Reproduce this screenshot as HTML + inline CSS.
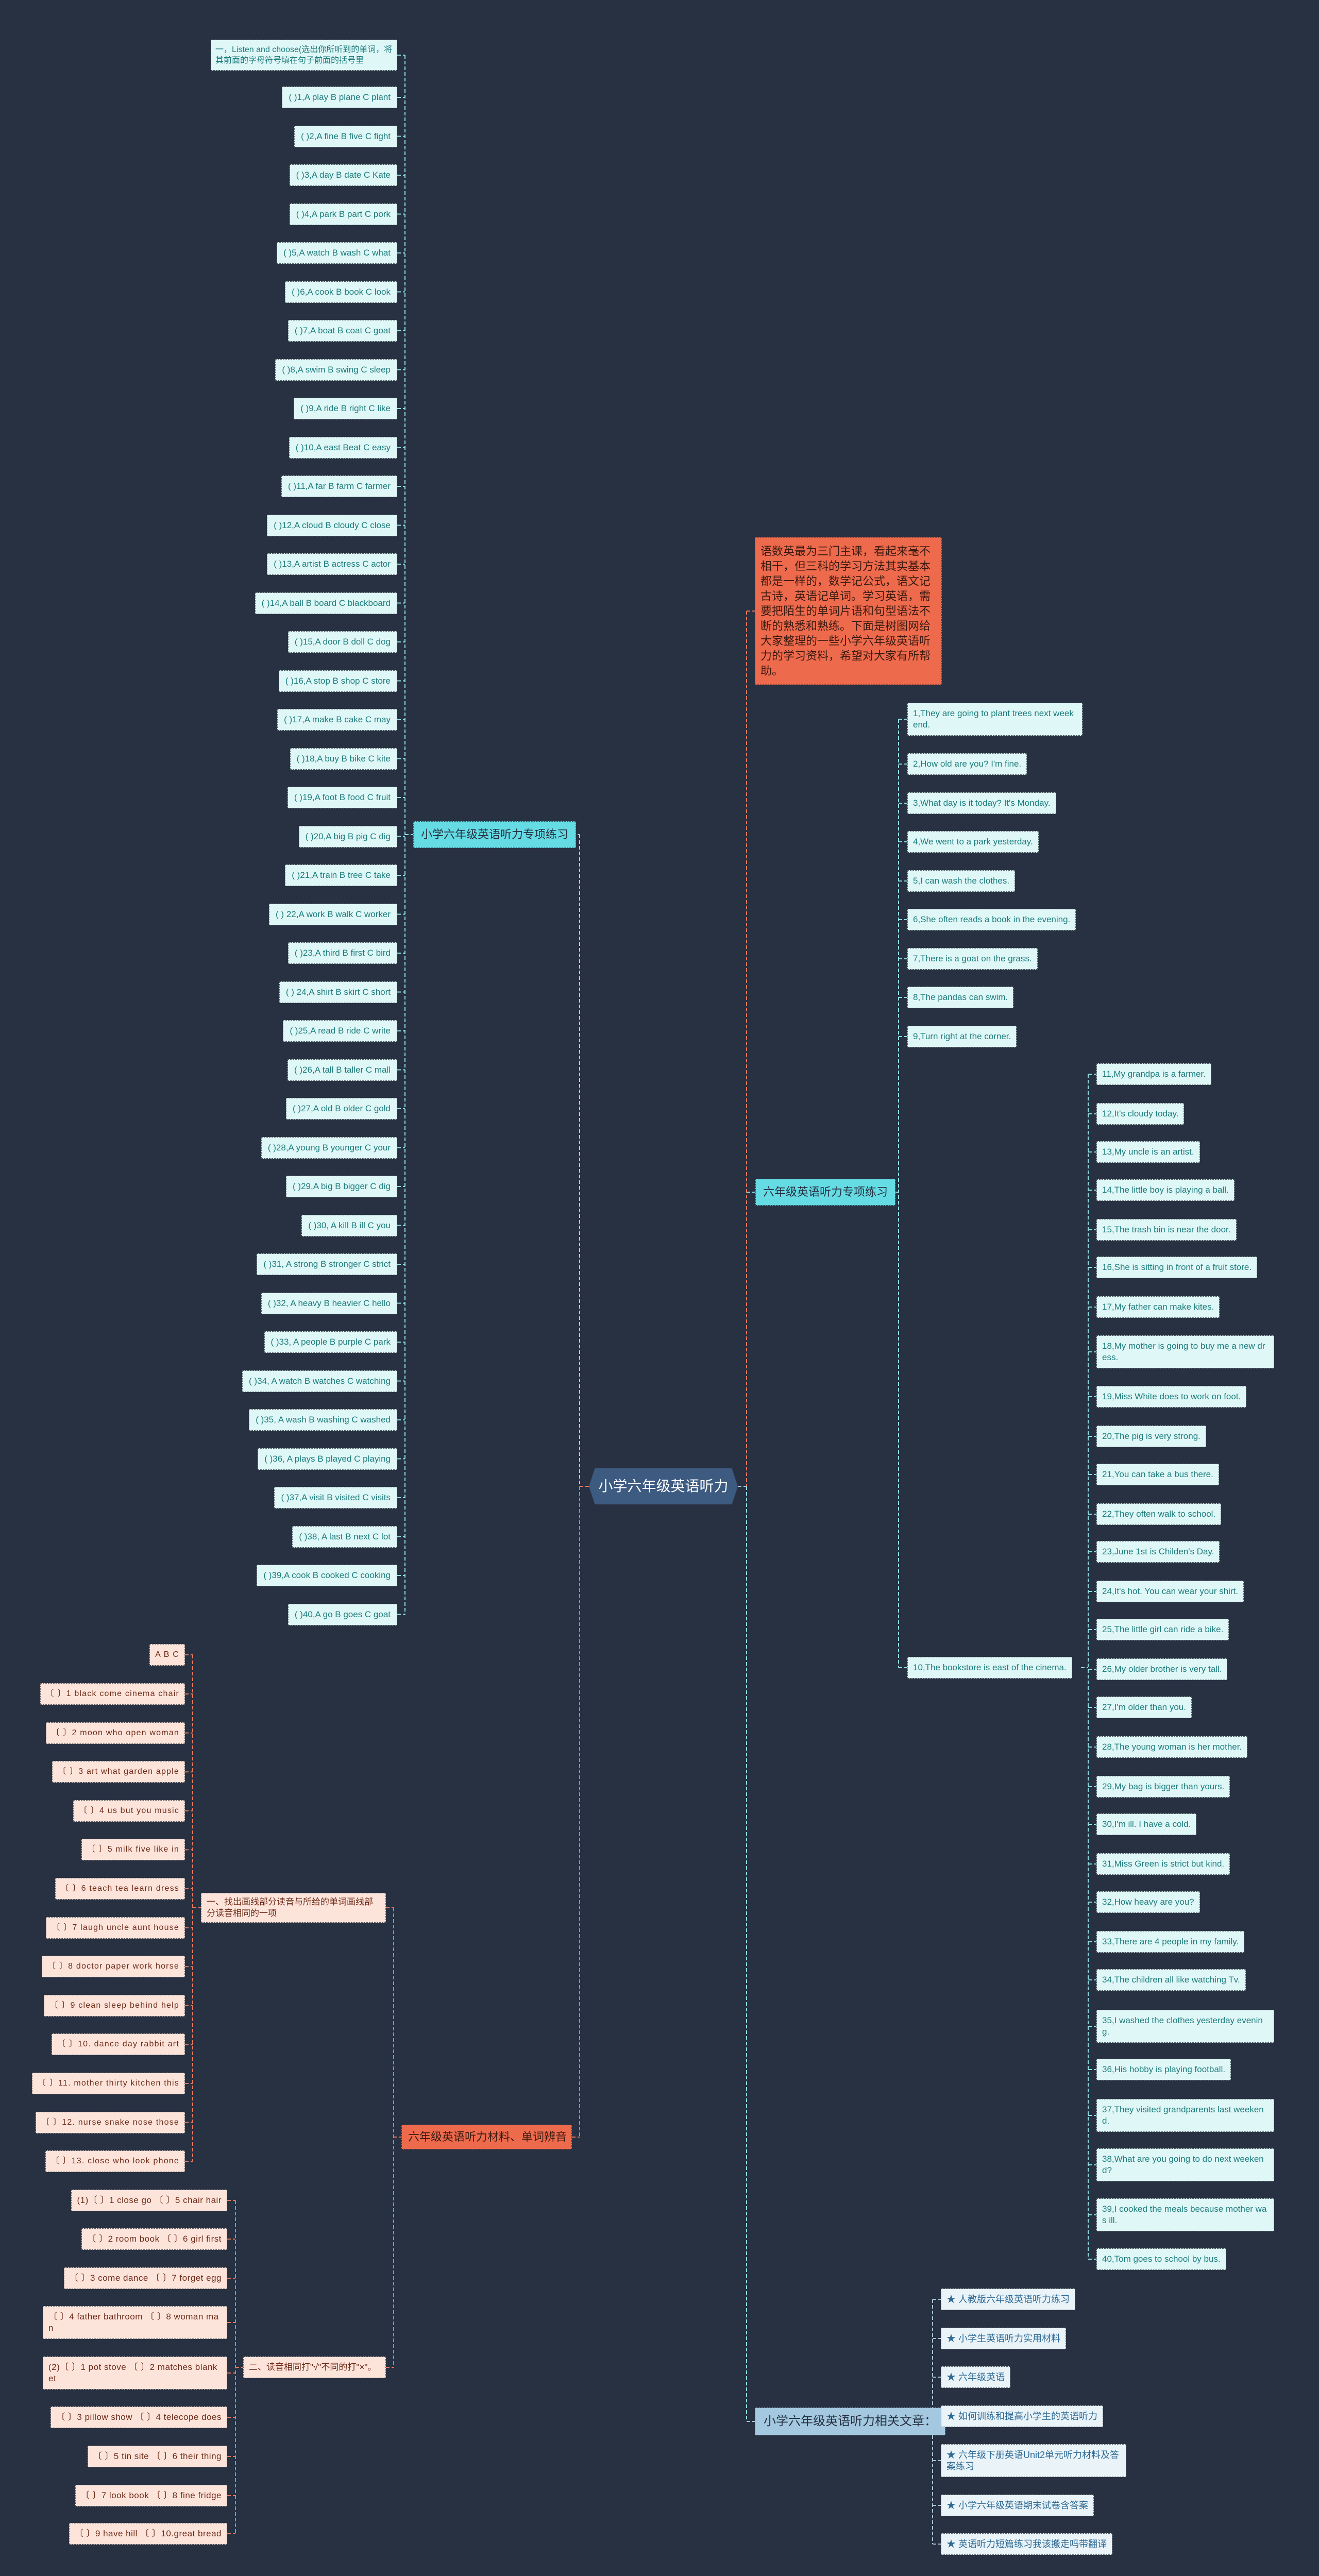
<!DOCTYPE html>
<html><head><meta charset="utf-8">
<style>
html,body{margin:0;padding:0;}
body{width:2560px;height:5031px;background:#283142;position:relative;overflow:hidden;font-family:"Liberation Sans","Noto Sans CJK SC",sans-serif;}
.b{position:absolute;box-sizing:border-box;padding:9px 10px;line-height:22px;font-size:16px;border:1px dashed rgba(20,30,40,.7);transform:translateY(-50%);}
.cy{background:#e0f7f7;color:#1d7c7c;}
.cyl{font-size:17px;padding:9px 12px;}
.cyr{font-size:17px;}
.cyn{background:#65dbe4;color:#263040;font-size:22px;line-height:30px;padding:10px 14px;}
.or{background:#fde4db;color:#6e2b18;font-size:16px;letter-spacing:1.2px;}
.orn{background:#ee6a4c;color:#3a1a10;font-size:22px;line-height:30px;padding:8px 12px;}
.bl{background:#e9f3f8;color:#2e6a95;font-size:18px;}
.bln{background:#a3c8df;color:#263040;font-size:24px;line-height:32px;padding:10px 16px;}
.wrap{white-space:normal;word-break:break-all;}
.nw{white-space:nowrap;}
#center{position:absolute;left:1143px;top:2850px;width:289px;height:70px;background:#3d5a80;color:#fff;font-size:28px;line-height:70px;text-align:center;clip-path:polygon(4% 0,96% 0,100% 50%,96% 100%,4% 100%,0 50%);}
svg{position:absolute;left:0;top:0;}
</style></head>
<body>
<svg id="lines" width="2560" height="5031"></svg>
<div id="center">小学六年级英语听力</div>
<script>
const leftItems=["( )1,A play B plane C plant","( )2,A fine B five C fight","( )3,A day B date C Kate","( )4,A park B part C pork","( )5,A watch B wash C what","( )6,A cook B book C look","( )7,A boat B coat C goat","( )8,A swim B swing C sleep","( )9,A ride B right C like","( )10,A east Beat C easy","( )11,A far B farm C farmer","( )12,A cloud B cloudy C close","( )13,A artist B actress C actor","( )14,A ball B board C blackboard","( )15,A door B doll C dog","( )16,A stop B shop C store","( )17,A make B cake C may","( )18,A buy B bike C kite","( )19,A foot B food C fruit","( )20,A big B pig C dig","( )21,A train B tree C take","( ) 22,A work B walk C worker","( )23,A third B first C bird","( ) 24,A shirt B skirt C short","( )25,A read B ride C write","( )26,A tall B taller C mall","( )27,A old B older C gold","( )28,A young B younger C your","( )29,A big B bigger C dig","( )30, A kill B ill C you","( )31, A strong B stronger C strict","( )32, A heavy B heavier C hello","( )33, A people B purple C park","( )34, A watch B watches C watching","( )35, A wash B washing C washed","( )36, A plays B played C playing","( )37,A visit B visited C visits","( )38, A last B next C lot","( )39,A cook B cooked C cooking","( )40,A go B goes C goat"];
const rightA=["1,They are going to plant trees next weekend.","2,How old are you? I'm fine.","3,What day is it today? It's Monday.","4,We went to a park yesterday.","5,I can wash the clothes.","6,She often reads a book in the evening.","7,There is a goat on the grass.","8,The pandas can swim.","9,Turn right at the corner.","10,The bookstore is east of the cinema."];
const rightAY=[1396,1483,1559,1634,1710,1785,1861,1936,2012,3237];
const rightB=["11,My grandpa is a farmer.","12,It's cloudy today.","13,My uncle is an artist.","14,The little boy is playing a ball.","15,The trash bin is near the door.","16,She is sitting in front of a fruit store.","17,My father can make kites.","18,My mother is going to buy me a new dress.","19,Miss White does to work on foot.","20,The pig is very strong.","21,You can take a bus there.","22,They often walk to school.","23,June 1st is Childen's Day.","24,It's hot. You can wear your shirt.","25,The little girl can ride a bike.","26,My older brother is very tall.","27,I'm older than you.","28,The young woman is her mother.","29,My bag is bigger than yours.","30,I'm ill. I have a cold.","31,Miss Green is strict but kind.","32,How heavy are you?","33,There are 4 people in my family.","34,The children all like watching Tv.","35,I washed the clothes yesterday evening.","36,His hobby is playing football.","37,They visited grandparents last weekend.","38,What are you going to do next weekend?","39,I cooked the meals because mother was ill.","40,Tom goes to school by bus."];
const rightBY=[2085,2162,2236,2310,2387,2460,2537,2624,2711,2788,2862,2939,3012,3089,3163,3240,3314,3391,3468,3541,3618,3692,3769,3843,3933,4017,4106,4202,4299,4385];
const related=["★ 人教版六年级英语听力练习","★ 小学生英语听力实用材料","★ 六年级英语","★ 如何训练和提高小学生的英语听力","★ 六年级下册英语Unit2单元听力材料及答案练习","★ 小学六年级英语期末试卷含答案","★ 英语听力短篇练习我该搬走吗带翻译"];
const relatedY=[4463,4539,4614,4690,4776,4863,4938];
const sub1=["A B C","〔 〕1  black come cinema chair","〔 〕2  moon who open woman","〔 〕3  art what garden apple","〔 〕4  us but you music","〔 〕5  milk five like in","〔 〕6  teach tea learn dress","〔 〕7  laugh uncle aunt house","〔 〕8  doctor paper work horse","〔 〕9  clean sleep behind help","〔 〕10. dance day rabbit art","〔 〕11. mother thirty kitchen this","〔 〕12. nurse snake nose those","〔 〕13. close who look phone"];
const sub2=["(1)〔 〕1 close go 〔 〕5 chair hair","〔 〕2 room book 〔 〕6 girl first","〔 〕3 come dance 〔 〕7 forget egg","〔 〕4 father bathroom 〔 〕8 woman man","(2)〔 〕1 pot stove 〔 〕2 matches blanket","〔 〕3  pillow show 〔 〕4 telecope does","〔 〕5  tin site 〔 〕6 their thing","〔 〕7 look book 〔 〕8 fine fridge","〔 〕9 have hill 〔 〕10.great bread"];
const sub2Y=[4271,4346,4422,4508,4606,4692,4768,4844,4918];

const svg=document.getElementById('lines');
function line(x1,y1,x2,y2,c){const l=document.createElementNS('http://www.w3.org/2000/svg','line');l.setAttribute('x1',x1);l.setAttribute('y1',y1);l.setAttribute('x2',x2);l.setAttribute('y2',y2);l.setAttribute('stroke',c);l.setAttribute('stroke-width','2');l.setAttribute('stroke-dasharray','7 4');svg.appendChild(l);}
function box(text,cls,x,cy,side,maxW){const d=document.createElement('div');d.className='b '+cls;d.textContent=text;d.style.top=cy+'px';if(side==='r'){d.style.right=(2560-x)+'px';}else{d.style.left=x+'px';}if(maxW){d.style.maxWidth=maxW+'px';}document.body.appendChild(d);return d;}
const CY='#8ee0e6',OR='#e8775a',BL='#a9c3d6';

line(1125,1620,1125,2885,CY);line(1125,2885,1143,2885,OR);line(1125,2885,1125,4148,OR);line(1110,4148,1125,4148,OR);line(1110,1620,1125,1620,CY);
line(1432,2885,1449,2885,BL);line(1449,1186,1449,2885,OR);line(1449,2885,1449,4700,CY);
line(1449,1186,1465,1186,OR);line(1449,2314,1466,2314,CY);line(1449,4700,1465,4700,BL);

let n=box('小学六年级英语听力专项练习','cyn nw',802,1620,'l');


let t=box('一，Listen and choose(选出你所听到的单词，将其前面的字母符号填在句子前面的括号里','cy wrap',771,107,'r');


t.style.fontSize='16px';t.style.lineHeight='21px';t.style.width='362px';t.style.padding='8px 8px';
line(786,107,786,3134,CY);line(771,107,786,107,CY);line(786,1620,802,1620,CY);
leftItems.forEach((s,i)=>{const cy=189+i*75.5;const d=box(s,'cy cyl nw',771,cy,'r');


line(771,cy,786,cy,CY);});

let intro=box('语数英最为三门主课，看起来毫不相干，但三科的学习方法其实基本都是一样的，数学记公式，语文记古诗，英语记单词。学习英语，需要把陌生的单词片语和句型语法不断的熟悉和熟练。下面是树图网给大家整理的一些小学六年级英语听力的学习资料，希望对大家有所帮助。','orn wrap',1465,1186,'l');


intro.style.width='363px';intro.style.fontSize='22px';intro.style.lineHeight='29px';intro.style.padding='12px 10px';intro.style.color='#3a1a10';

n=box('六年级英语听力专项练习','cyn nw',1466,2314,'l');


line(1726,2314,1744,2314,CY);line(1744,rightAY[0],1744,rightAY[9],CY);
rightA.forEach((s,i)=>{const cy=rightAY[i];const d=box(s,'cy cyr wrap',1761,cy,'l',340);


line(1744,cy,1761,cy,CY);});
line(2098,3237,2112,3237,CY);line(2112,rightBY[0],2112,rightBY[rightBY.length-1],CY);
rightB.forEach((s,i)=>{const cy=rightBY[i];const d=box(s,'cy cyr wrap',2128,cy,'l',345);


line(2112,cy,2128,cy,CY);});

n=box('小学六年级英语听力相关文章：','bln nw',1465,4700,'l');


line(1795,4700,1810,4700,BL);line(1810,relatedY[0],1810,relatedY[6],BL);
related.forEach((s,i)=>{const cy=relatedY[i];const d=box(s,'bl wrap',1826,cy,'l',360);


line(1810,cy,1826,cy,BL);});

n=box('六年级英语听力材料、单词辨音','orn nw',779,4148,'l');


n.style.width='331px';
line(764,3703,764,4595,OR);line(764,4148,779,4148,OR);
let s1=box('一、找出画线部分读音与所给的单词画线部分读音相同的一项','or wrap',390,3703,'l');


s1.style.width='359px';s1.style.padding='6px 10px';s1.style.letterSpacing='0';s1.style.fontSize='17px';
line(749,3703,764,3703,OR);
let s2=box('二、读音相同打"√"不同的打"×"。','or nw',472,4595,'l');


s2.style.width='277px';s2.style.fontSize='17px';s2.style.letterSpacing='0';
line(749,4595,764,4595,OR);
line(374,3212,374,4195,OR);line(374,3703,390,3703,OR);
sub1.forEach((s,i)=>{const cy=i===0?3212:3288+(i-1)*75.6;const d=box(s,'or nw',359,cy,'r');


line(359,cy,374,cy,OR);});
line(457,sub2Y[0],457,sub2Y[8],OR);line(457,4595,472,4595,OR);
sub2.forEach((s,i)=>{const cy=sub2Y[i];const d=box(s,'or wrap',441,cy,'r',358);


d.style.fontSize='17px';d.style.letterSpacing='0.5px';
line(441,cy,457,cy,OR);});
</script>
</body></html>
